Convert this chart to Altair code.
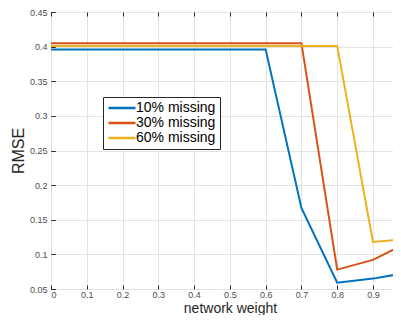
import altair as alt
import pandas as pd

weights = [0.0, 0.1, 0.2, 0.3, 0.4, 0.5, 0.6, 0.7, 0.8, 0.9, 1.0]
rmse_10 = [0.396, 0.396, 0.396, 0.396, 0.396, 0.396, 0.396, 0.167, 0.059, 0.065, 0.074]
rmse_30 = [0.405, 0.405, 0.405, 0.405, 0.405, 0.405, 0.405, 0.405, 0.078, 0.092, 0.118]
rmse_60 = [0.401, 0.401, 0.401, 0.401, 0.401, 0.401, 0.401, 0.401, 0.401, 0.118, 0.122]
series = ["10% missing", "30% missing", "60% missing"]
colors = ["#0072BD", "#D95319", "#EDB120"]
x_ticks = [0, 0.1, 0.2, 0.3, 0.4, 0.5, 0.6, 0.7, 0.8, 0.9]
y_ticks = [0.05, 0.1, 0.15, 0.2, 0.25, 0.3, 0.35, 0.4, 0.45]

rows = []
for name, vals in zip(series, [rmse_10, rmse_30, rmse_60]):
    for w, v in zip(weights, vals):
        rows.append({"weight": w, "rmse": v, "series": name})
df = pd.DataFrame(rows)

xscale = alt.Scale(domain=[0, 0.956], nice=False, zero=False)
yscale = alt.Scale(domain=[0.05, 0.45], nice=False, zero=False)

main = alt.Chart(df).mark_line(strokeWidth=2, clip=True).encode(
    x=alt.X("weight:Q", scale=xscale, title="network weight",
            axis=alt.Axis(values=x_ticks, format=".1~f", domain=False, ticks=False,
                          grid=True, gridColor="#e3e3e3", labelFontSize=9,
                          labelColor="#4d4d4d", labelPadding=1, titleFontSize=14,
                          titleFontWeight="normal", titleColor="#262626",
                          titleX=179, titleY=23, titleAlign="center",
                          titleBaseline="alphabetic")),
    y=alt.Y("rmse:Q", scale=yscale, title="RMSE",
            axis=alt.Axis(values=y_ticks, format=".2~f", domain=False, ticks=False,
                          grid=True, gridColor="#e3e3e3", labelFontSize=9,
                          labelColor="#4d4d4d", labelPadding=4, titleFontSize=16,
                          titleFontWeight="normal", titleColor="#262626", titlePadding=3)),
    color=alt.Color("series:N", scale=alt.Scale(domain=series, range=colors),
                    legend=alt.Legend(title=None, orient="none", legendX=52, legendY=85,
                                      symbolType="M-3,0H3", symbolSize=81,
                                      symbolStrokeWidth=2.5, symbolOffset=8,
                                      labelFontSize=14, labelOffset=7,
                                      labelColor="#000000", strokeColor="#262626",
                                      fillColor="#ffffff", padding=4, rowPadding=1)),
)

def tick_layer(xorient, yorient):
    return alt.Chart(df).mark_line(opacity=0).encode(
        x=alt.X("weight:Q", scale=xscale, title=None,
                axis=alt.Axis(orient=xorient, values=x_ticks, offset=-4, tickSize=4,
                              domain=False, labels=False, grid=False,
                              tickColor="#262626")),
        y=alt.Y("rmse:Q", scale=yscale, title=None,
                axis=alt.Axis(orient=yorient, values=y_ticks, offset=-4, tickSize=4,
                              domain=False, labels=False, grid=False,
                              tickColor="#262626")),
    )

chart = alt.layer(main, tick_layer("bottom", "left"), tick_layer("top", "left")).resolve_axis(
    x="independent", y="independent"
).properties(
    width=342, height=277,
    autosize=alt.AutoSizeParams(type="none"),
    padding={"left": 43, "top": 4, "right": 0, "bottom": 26},
).configure_view(
    stroke="#262626", strokeWidth=1
).configure(
    font="Liberation Sans"
)

chart.save("out.html", embed_options={"renderer": "svg", "actions": False})
